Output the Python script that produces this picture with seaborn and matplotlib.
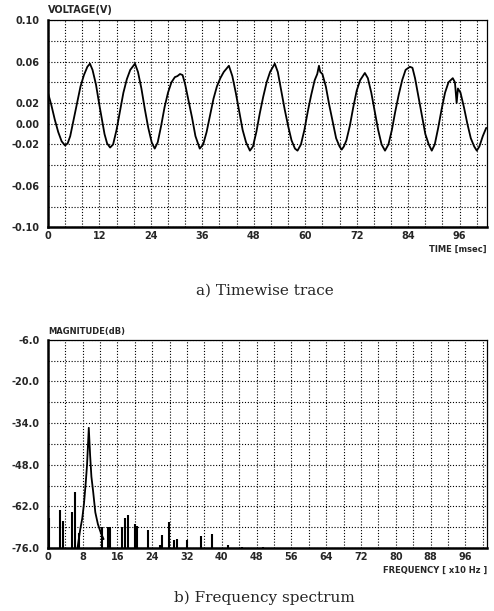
import matplotlib
matplotlib.use("Agg")
import matplotlib.pyplot as plt
import seaborn as sns
import numpy as np

# a) timewise trace (msec, volts)
time_ms = [0.0, 0.8, 1.6, 2.4, 3.2, 4.0, 4.6,
           5.2, 6.0, 6.8, 7.6, 8.4, 9.2, 9.8,
           10.4, 11.2, 12.0, 12.6, 13.2, 13.8, 14.5,
           15.2, 16.0, 16.8, 17.6, 18.4, 19.2, 20.3,
           21.0, 21.8, 22.6, 23.4, 24.2, 24.9,
           25.6, 26.4, 27.2, 28.0, 28.8, 29.6, 30.2, 30.8, 31.4,
           32.0, 32.8, 33.6, 34.4, 35.4,
           36.2, 37.0, 37.8, 38.6, 39.4, 40.2, 41.0, 42.2,
           43.0, 43.8, 44.6, 45.4, 46.2, 47.1,
           47.8, 48.6, 49.4, 50.2, 51.0, 51.8, 52.9,
           53.6, 54.4, 55.2, 56.0, 56.8, 57.6, 58.2,
           59.0, 59.8, 60.6, 61.4, 62.2, 62.8, 63.2, 63.5, 64.0,
           64.8, 65.6, 66.4, 67.2, 68.0, 68.5, 69.0,
           69.6, 70.4, 71.2, 72.0, 72.8, 73.9,
           74.6, 75.4, 76.2, 77.0, 77.8, 78.6,
           79.4, 80.2, 81.0, 81.8, 82.6, 83.4, 84.4, 85.0,
           85.6, 86.4, 87.2, 88.0, 88.8, 89.5,
           90.2, 91.0, 91.8, 92.6, 93.4, 94.4, 94.9, 95.3, 95.6, 96.2,
           97.0, 97.8, 98.6, 99.4, 100.0, 100.6, 101.4, 102.2]
voltage = [0.030, 0.018, 0.004, -0.008, -0.017, -0.021, -0.019,
           -0.012, 0.004, 0.020, 0.036, 0.047, 0.055, 0.058,
           0.052, 0.038, 0.018, 0.004, -0.010, -0.019, -0.023,
           -0.020, -0.006, 0.012, 0.030, 0.043, 0.052, 0.058,
           0.050, 0.034, 0.014, -0.004, -0.018, -0.024,
           -0.018, -0.002, 0.016, 0.030, 0.040, 0.045, 0.046, 0.048, 0.047,
           0.038, 0.022, 0.006, -0.012, -0.024,
           -0.020, -0.008, 0.008, 0.024, 0.036, 0.044, 0.050, 0.056,
           0.046, 0.030, 0.012, -0.006, -0.018, -0.026,
           -0.022, -0.008, 0.010, 0.026, 0.040, 0.050, 0.058,
           0.050, 0.032, 0.014, -0.002, -0.016, -0.024, -0.026,
           -0.020, -0.006, 0.012, 0.028, 0.042, 0.048, 0.056, 0.050, 0.048,
           0.036, 0.018, 0.002, -0.014, -0.022, -0.025, -0.022,
           -0.016, -0.002, 0.016, 0.032, 0.042, 0.049,
           0.044, 0.030, 0.012, -0.006, -0.020, -0.026,
           -0.020, -0.006, 0.012, 0.028, 0.042, 0.052, 0.055, 0.054,
           0.044, 0.026, 0.008, -0.010, -0.020, -0.026,
           -0.020, -0.004, 0.014, 0.030, 0.040, 0.044, 0.040, 0.020, 0.034, 0.030,
           0.016, 0.000, -0.014, -0.022, -0.026, -0.022, -0.012, -0.004]

# b) spectrum: main peak outline (x10 Hz, dB)
peak_freq = [6.8, 7.4, 7.9, 8.3, 8.7, 9.0, 9.4, 9.7, 10.0, 10.4, 10.9, 11.5, 12.2, 12.8]
peak_mag = [-76.0, -70.0, -66.0, -61.0, -54.0, -48.0, -35.6, -44.7, -52.0, -57.0, -64.0, -68.0, -71.0, -73.0]

# isolated spectral lines (x10 Hz, dB)
line_freq = [0.2, 2.8, 3.5, 5.5, 6.2, 7.1, 12.4, 13.8, 14.3, 17.0, 17.7, 18.4, 20.0, 20.5,
             23.0, 25.7, 26.3, 27.8, 29.0, 29.6, 32.0, 35.2, 37.7, 41.4, 44.6, 49.4]
line_mag = [-66.0, -63.2, -67.0, -64.0, -57.0, -71.0, -69.0, -69.0, -69.0, -69.0, -66.0, -65.0, -68.0, -68.6,
            -70.0, -75.0, -71.6, -67.3, -73.3, -73.0, -73.3, -72.0, -71.3, -75.0, -75.5, -75.5]

sns.set_style("white")
plt.rcParams["font.family"] = ["DejaVu Sans"]

fig = plt.figure(figsize=(4.94, 6.11), dpi=100)
ax1 = fig.add_axes([0.097, 0.628, 0.889, 0.339])
ax2 = fig.add_axes([0.097, 0.103, 0.889, 0.341])

tick_font = dict(fontsize=7, fontweight="bold")
grid_kw = dict(color="black", linestyle=(0, (1, 1.6)), linewidth=0.8)

# top panel
sns.lineplot(x=time_ms, y=voltage, ax=ax1, color="black", linewidth=1.3, sort=False)
ax1.set_xlim(0, 102.4)
ax1.set_ylim(-0.10, 0.10)
ax1.set_xticks(np.arange(0, 97, 12))
ax1.set_xticks(np.arange(0, 102.4, 4), minor=True)
ax1.set_yticks([-0.10, -0.06, -0.02, 0.00, 0.02, 0.06, 0.10])
ax1.set_yticks(np.arange(-0.10, 0.101, 0.02), minor=True)
ax1.set_xticklabels([str(v) for v in range(0, 97, 12)], **tick_font)
ax1.set_yticklabels(["-0.10", "-0.06", "-0.02", "0.00", "0.02", "0.06", "0.10"], **tick_font)
ax1.text(0.0, 1.025, "VOLTAGE(V)", transform=ax1.transAxes, ha="left", va="bottom", **tick_font)
ax1.text(1.0, -0.085, "TIME [msec]", transform=ax1.transAxes, ha="right", va="top", fontsize=6, fontweight="bold")
fig.text(0.536, 0.525, "a) Timewise trace", ha="center", va="center", fontsize=11, family="DejaVu Serif")

# bottom panel
sns.lineplot(x=peak_freq, y=peak_mag, ax=ax2, color="black", linewidth=1.3, sort=False)
ax2.vlines(line_freq, -76, line_mag, color="black", linewidth=1.5)
ax2.set_xlim(0, 101)
ax2.set_ylim(-76, -6)
ax2.set_xticks(np.arange(0, 97, 8))
ax2.set_xticks(np.arange(0, 101, 4), minor=True)
ax2.set_yticks([-76, -62, -48, -34, -20, -6])
ax2.set_yticks(np.arange(-76, -5, 7), minor=True)
ax2.set_xticklabels([str(v) for v in range(0, 97, 8)], **tick_font)
ax2.set_yticklabels(["-76.0", "-62.0", "-48.0", "-34.0", "-20.0", "-6.0"], **tick_font)
ax2.text(0.0, 1.02, "MAGNITUDE(dB)", transform=ax2.transAxes, ha="left", va="bottom", fontsize=6, fontweight="bold")
ax2.text(1.0, -0.085, "FREQUENCY [ x10 Hz ]", transform=ax2.transAxes, ha="right", va="top", fontsize=6, fontweight="bold")
fig.text(0.536, 0.021, "b) Frequency spectrum", ha="center", va="center", fontsize=11, family="DejaVu Serif")

for ax in (ax1, ax2):
    ax.grid(True, which="both", **grid_kw)
    ax.tick_params(axis="x", which="both", length=0, pad=3)
    ax.tick_params(axis="y", which="both", length=0, pad=6)
    ax.set_xlabel("")
    ax.set_ylabel("")
    for side in ("left", "bottom"):
        ax.spines[side].set_linewidth(1.8)
        ax.spines[side].set_color("black")
    for side in ("top", "right"):
        ax.spines[side].set_linewidth(0.9)
        ax.spines[side].set_color("black")

fig.savefig("out.png", dpi=100)
